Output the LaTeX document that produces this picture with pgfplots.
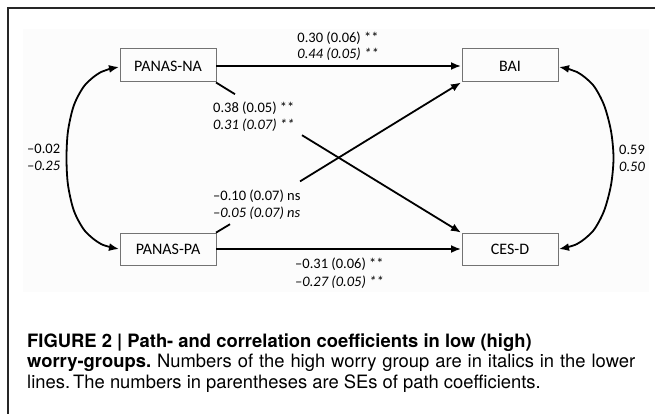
\documentclass[border=0pt]{standalone}
\usepackage{fontspec}
\setmainfont{TeX Gyre Heros}
\newfontfamily\calfont{Carlito}
\usepackage{pgfplots}
\pgfplotsset{compat=1.18}
\usetikzlibrary{arrows.meta}
\begin{document}
\begin{tikzpicture}
\begin{axis}[
  width=655bp, height=414bp, scale only axis,
  xmin=0, xmax=655, ymin=0, ymax=414, y dir=reverse,
  hide axis, clip=false,
  every axis plot/.append style={mark=none},
]
% frame and light panel
\addplot[draw=none, fill=black!1.2] coordinates {(23,29)(649,29)(649,292)(23,292)(23,29)};
\addplot[draw=black!85, line width=1.6bp] coordinates {(8,414)(8,8)(655,8)};
% boxes
\addplot[draw=black!55, line width=1bp] coordinates {(120,49)(216,49)(216,82)(120,82)(120,49)};
\addplot[draw=black!55, line width=1bp] coordinates {(462,49)(558,49)(558,82)(462,82)(462,49)};
\addplot[draw=black!55, line width=1bp] coordinates {(120,233)(216,233)(216,265)(120,265)(120,233)};
\addplot[draw=black!55, line width=1bp] coordinates {(462,233)(558,233)(558,265)(462,265)(462,233)};
% straight paths
\addplot[black, line width=1.8bp, -{Latex[length=10bp,width=8bp]}] coordinates {(216,66)(461,66)};
\addplot[black, line width=1.8bp, -{Latex[length=10bp,width=8bp]}] coordinates {(216,249)(461,249)};
\addplot[black, line width=1.8bp] coordinates {(216,82.5)(235,94.2)};
\addplot[black, line width=1.8bp, -{Latex[length=10bp,width=8bp]}] coordinates {(302,135.2)(461,232.6)};
\addplot[black, line width=1.8bp] coordinates {(216,232.6)(230,224.2)};
\addplot[black, line width=1.8bp, -{Latex[length=10bp,width=8bp]}] coordinates {(300,181.4)(461,82.5)};
% curved correlations
\addplot[black, line width=1.8bp, smooth, {Latex[length=10bp,width=8bp]}-{Latex[length=10bp,width=8bp]}] coordinates {(119,67)(101,72)(85,85)(74,105)(68,131)(66.5,158)(68,185)(74,211)(85,231)(101,244)(119,249)};
\addplot[black, line width=1.8bp, smooth, {Latex[length=10bp,width=8bp]}-{Latex[length=10bp,width=8bp]}] coordinates {(559,67)(577,72)(593,85)(604,105)(611,131)(613.5,158)(611,185)(604,211)(593,231)(577,244)(559,249)};
% box labels
\node[font=\calfont\fontsize{16bp}{19bp}\selectfont] at (axis cs:168,66) {PANAS-NA};
\node[font=\calfont\fontsize{16bp}{19bp}\selectfont] at (axis cs:510,66) {BAI};
\node[font=\calfont\fontsize{16bp}{19bp}\selectfont] at (axis cs:168,249.5) {PANAS-PA};
\node[font=\calfont\fontsize{16bp}{19bp}\selectfont] at (axis cs:510,249.5) {CES-D};
% coefficient labels
\begin{scope}[every node/.style={font=\calfont\fontsize{14.5bp}{17bp}\selectfont, inner sep=0pt}]
\node[anchor=center] at (axis cs:338,38) {0.30 (0.06) **};
\node[anchor=center] at (axis cs:338,54) {\itshape 0.44 (0.05) **};
\node[anchor=west] at (axis cs:213,108) {0.38 (0.05) **};
\node[anchor=west] at (axis cs:213,125) {\itshape 0.31 (0.07) **};
\node[anchor=west] at (axis cs:27,149) {–0.02};
\node[anchor=west] at (axis cs:27,166) {\itshape –0.25};
\node[anchor=west] at (axis cs:213,196) {–0.10 (0.07) ns};
\node[anchor=west] at (axis cs:213,213) {\itshape –0.05 (0.07) ns};
\node[anchor=west] at (axis cs:295,264) {–0.31 (0.06) **};
\node[anchor=west] at (axis cs:295,282) {\itshape –0.27 (0.05) **};
\node[anchor=west] at (axis cs:619,150) {0.59};
\node[anchor=west] at (axis cs:619,167) {\itshape 0.50};
\end{scope}
% caption
\begin{scope}[every node/.style={font=\fontsize{18.4bp}{21bp}\selectfont, inner sep=0pt, anchor=base west}]
\node at (axis cs:27,347) {\bfseries FIGURE 2 | Path- and correlation coefficients in low (high)};
\node at (axis cs:27,367.5) {\hbox to 608bp{\bfseries worry-groups.\mdseries\ Numbers of the high worry group are in italics in the lower}};
\node at (axis cs:27,388) {lines.\,The numbers in parentheses are SEs of path coefficients.};
\end{scope}
\end{axis}
\pgfresetboundingbox
\path[use as bounding box] (current axis.south west) rectangle (current axis.north east);
\end{tikzpicture}
\end{document}
